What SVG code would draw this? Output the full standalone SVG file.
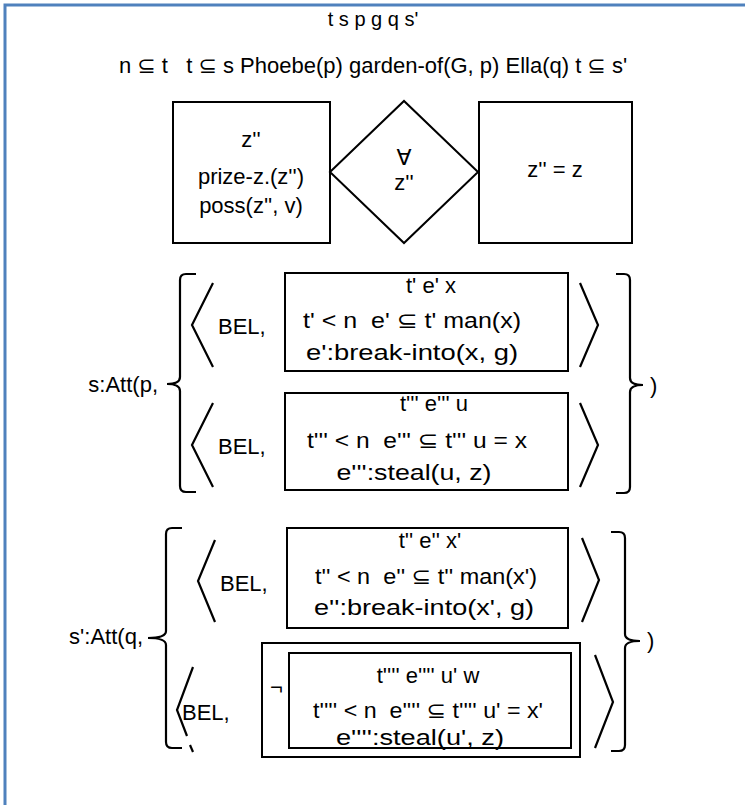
<svg xmlns="http://www.w3.org/2000/svg" width="745" height="805" viewBox="0 0 745 805">
<style>
text{font-family:"Liberation Sans",Arial,"DejaVu Sans",sans-serif;font-size:22px;fill:#000}
.m{text-anchor:middle}
.e{text-anchor:end}
.box{fill:none;stroke:#000;stroke-width:2}
.ln{fill:none;stroke:#000;stroke-width:2.2;stroke-linejoin:miter}
.frame{fill:none;stroke:#4f81bd;stroke-width:3}
</style>
<rect width="745" height="805" fill="#fff"/>
<path class="frame" d="M5,820 V5 H760"/>
<g id="header">
<text class="m" x="373" y="26" style="font-size:20px">t s p g q s'</text>
<text class="m" x="373" y="73" xml:space="preserve">n ⊆ t   t ⊆ s Phoebe(p) garden-of(G, p) Ella(q) t ⊆ s'</text>
</g>
<g id="restrictor">
<rect class="box" x="173" y="102" width="157" height="141"/>
<text class="m" x="251" y="147">z''</text>
<text class="m" x="251" y="184">prize-z.(z'')</text>
<text class="m" x="251" y="213">poss(z'', v)</text>
</g>
<g id="quantifier">
<polygon class="box" points="330,172 404,101 478,172 404,243"/>
<text class="m" x="404" y="165">∀</text>
<text class="m" x="404" y="190">z''</text>
</g>
<g id="scope">
<rect class="box" x="479" y="102" width="153" height="141"/>
<text class="m" x="555" y="177">z'' = z</text>
</g>
<g id="att1">
<text class="e" x="158" y="392">s:Att(p,</text>
<path class="ln" d="M196,274 H186 Q180,274 180,280 V377 Q180,384 167,384 Q180,384 180,391 V486 Q180,492 186,492 H196"/>
<path class="ln" d="M616,274 H624 Q630,274 630,280 V378 Q630,385 643,385 Q630,385 630,392 V487 Q630,493 624,493 H616"/>
<text x="650" y="393">)</text>
<g id="att1-row1">
<polyline class="ln" points="213,283 192,325 213,367"/>
<text x="218" y="334">BEL,</text>
<rect class="box" x="285" y="273" width="283" height="98"/>
<text class="m" x="431" y="293">t' e' x</text>
<text class="m" x="412" y="328" textLength="218" lengthAdjust="spacingAndGlyphs" xml:space="preserve">t' &lt; n  e' ⊆ t' man(x)</text>
<text class="m" x="412" y="360" textLength="212" lengthAdjust="spacingAndGlyphs">e':break-into(x, g)</text>
<polyline class="ln" points="580,283 598,325 580,367"/>
</g>
<g id="att1-row2">
<polyline class="ln" points="213,403 192,445 213,487"/>
<text x="218" y="454">BEL,</text>
<rect class="box" x="285" y="393" width="283" height="97"/>
<text class="m" x="434" y="411">t''' e''' u</text>
<text class="m" x="417" y="448" textLength="220" lengthAdjust="spacingAndGlyphs" xml:space="preserve">t''' &lt; n  e''' ⊆ t''' u = x</text>
<text class="m" x="414" y="480" textLength="155" lengthAdjust="spacingAndGlyphs">e''':steal(u, z)</text>
<polyline class="ln" points="580,403 598,445 580,487"/>
</g>
</g>
<g id="att2">
<text class="e" x="143" y="644">s':Att(q,</text>
<path class="ln" d="M182,528 H172 Q166,528 166,534 V631 Q166,638 148,638 Q166,638 166,645 V742 Q166,748 172,748 H182"/>
<path class="ln" d="M611,532 H619 Q625,532 625,538 V634 Q625,641 640,641 Q625,641 625,648 V745 Q625,751 619,751 H611"/>
<text x="647" y="648">)</text>
<g id="att2-row1">
<polyline class="ln" points="215,540 198,581 215,622"/>
<text x="220" y="591">BEL,</text>
<rect class="box" x="287" y="528" width="281" height="100"/>
<text class="m" x="430" y="548">t'' e'' x'</text>
<text class="m" x="426" y="584" textLength="222" lengthAdjust="spacingAndGlyphs" xml:space="preserve">t'' &lt; n  e'' ⊆ t'' man(x')</text>
<text class="m" x="424" y="615" textLength="220" lengthAdjust="spacingAndGlyphs">e'':break-into(x', g)</text>
<polyline class="ln" points="582,538 599,580 582,622"/>
</g>
<g id="att2-row2">
<polyline class="ln" points="193,667 177,710 187,736"/>
<path class="ln" d="M190,745 L193,752"/>
<text x="182" y="720">BEL,</text>
<rect class="box" x="262" y="643" width="318" height="114"/>
<text x="270" y="695">¬</text>
<rect class="box" x="289" y="653" width="282" height="95"/>
<text class="m" x="428" y="683">t'''' e'''' u' w</text>
<text class="m" x="428" y="718" textLength="230" lengthAdjust="spacingAndGlyphs" xml:space="preserve">t'''' &lt; n  e'''' ⊆ t'''' u' = x'</text>
<text class="m" x="420" y="745" textLength="168" lengthAdjust="spacingAndGlyphs">e'''':steal(u', z)</text>
<polyline class="ln" points="595,655 613,702 595,748"/>
</g>
</g>
<g id="connectors"/>
</svg>
